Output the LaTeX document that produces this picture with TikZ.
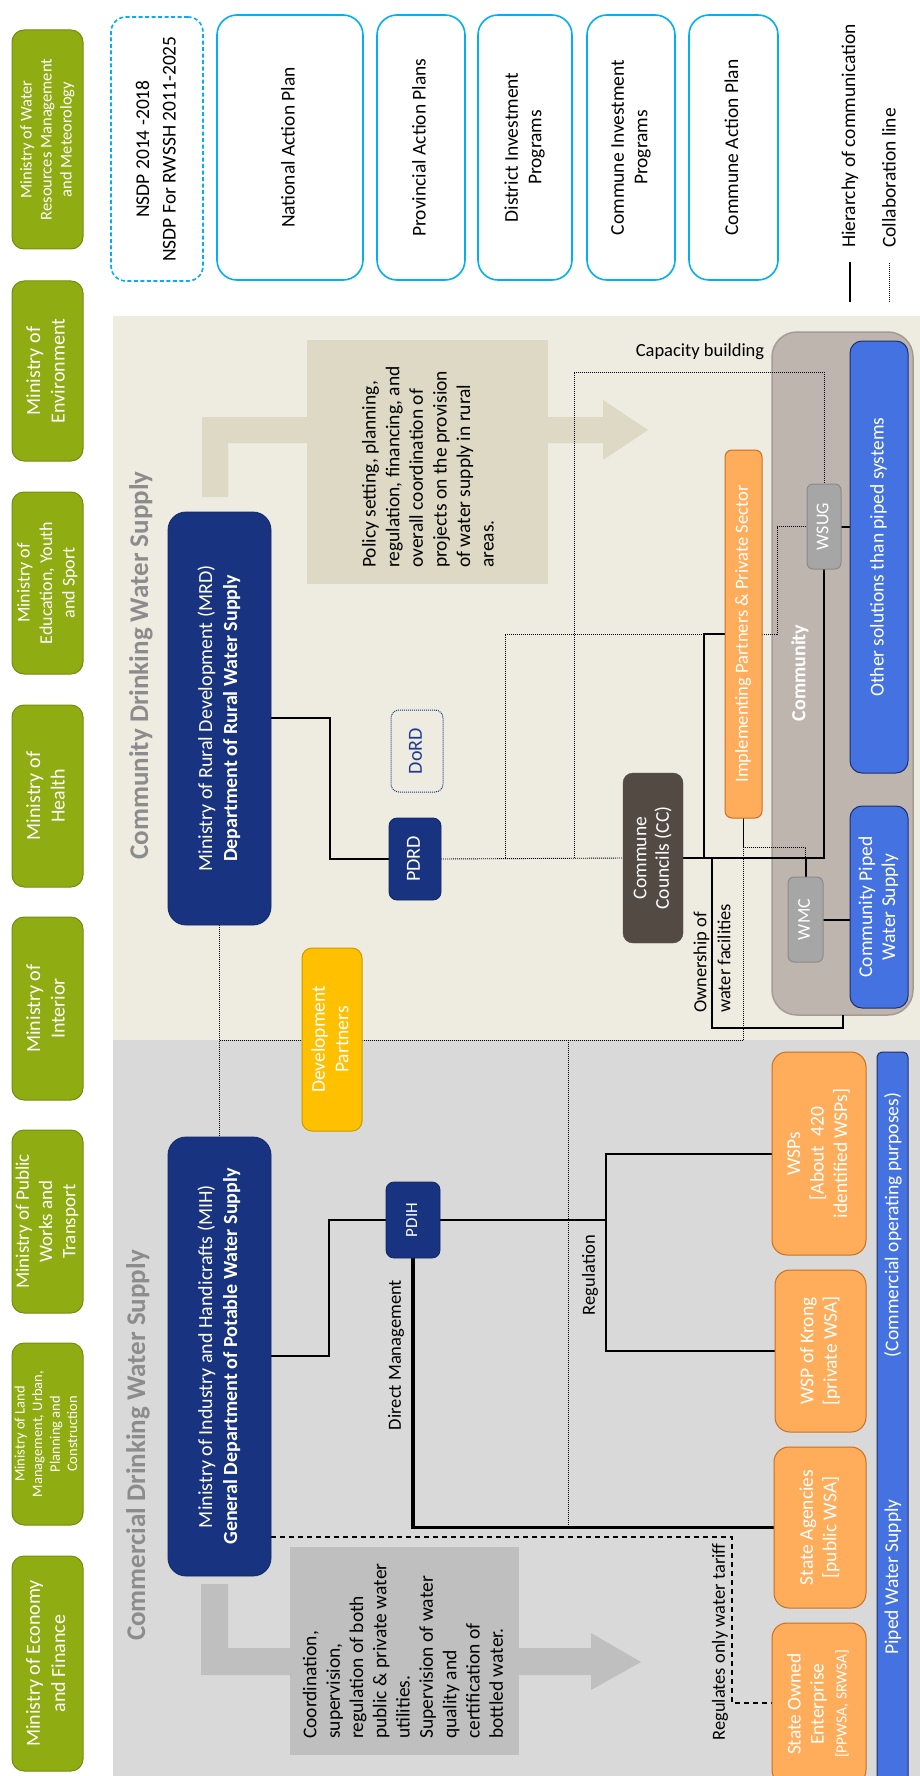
\documentclass[tikz,border=0pt]{standalone}
\usepackage{graphicx}
\usepackage{fontspec}
\setmainfont{Carlito}
\definecolor{mingreen}{HTML}{8FAC12}
\definecolor{minborder}{HTML}{748D0D}
\definecolor{plancyan}{HTML}{00B0F0}
\definecolor{navy}{HTML}{18337F}
\definecolor{navyborder}{HTML}{102666}
\definecolor{orangefill}{HTML}{FFAD5B}
\definecolor{orangeborder}{HTML}{C8701E}
\definecolor{yellowfill}{HTML}{FFC000}
\definecolor{yellowborder}{HTML}{CC9A00}
\definecolor{commfill}{HTML}{BFB5AF}
\definecolor{commborder}{HTML}{A59B95}
\definecolor{greyfill}{HTML}{A6A6A6}
\definecolor{greyborder}{HTML}{8A8A8A}
\definecolor{bluefill}{HTML}{4472E0}
\definecolor{blueborder}{HTML}{1E2E6A}
\definecolor{ccfill}{HTML}{524A43}
\definecolor{bgrural}{HTML}{EEECE1}
\definecolor{bgcomm}{HTML}{D9D9D9}
\definecolor{policyfill}{HTML}{DDD9C4}
\definecolor{coordfill}{HTML}{BFBFBF}
\definecolor{titlegrey}{HTML}{8C8C8C}
\definecolor{dordblue}{HTML}{1F3A93}
\newcommand{\rt}[1]{\rotatebox{90}{\begin{tabular}{@{}c@{}}#1\end{tabular}}}
\newcommand{\rtl}[1]{\rotatebox{90}{\begin{tabular}{@{}l@{}}#1\end{tabular}}}
\newcommand{\fsz}[2]{\fontsize{#1}{#2}\selectfont}
\pgfdeclarelayer{bg}
\pgfdeclarelayer{lines}
\pgfsetlayers{bg,lines,main}
\tikzset{
  box/.style={rectangle, inner sep=0pt, outer sep=0pt},
  ministry/.style={box, rounded corners=12pt, fill=mingreen, draw=minborder, line width=1pt, text=white, minimum width=71pt},
  plan/.style={box, rounded corners=20pt, fill=white, draw=plancyan, line width=1.6pt, text=black, minimum height=265pt, font=\fsz{19.5}{23.5}},
  navybox/.style={box, fill=navy, draw=navyborder, line width=0.8pt, text=white, rounded corners=18pt},
  orangebox/.style={box, fill=orangefill, draw=orangeborder, line width=1pt, rounded corners=15pt, text=white, font=\fsz{19.5}{23.5}},
  bluebox/.style={box, fill=bluefill, draw=blueborder, line width=1pt, rounded corners=12pt, text=white, font=\fsz{19.5}{23}},
  greybox/.style={box, fill=greyfill, draw=greyborder, line width=1pt, rounded corners=6pt, text=white, font=\fsz{18}{22}},
  label/.style={inner sep=0pt, text=black, font=\fsz{18.5}{24}},
  hier/.style={line width=2pt},
  thickline/.style={line width=3.2pt},
  collab/.style={line width=0.9pt, dash pattern=on 1pt off 1pt},
  tariff/.style={line width=1.1pt, dash pattern=on 5pt off 4pt},
}
\begin{document}
\begin{tikzpicture}[x=1pt,y=-1pt]
\useasboundingbox (0,0) rectangle (920,1776);
\begin{pgfonlayer}{bg}
\fill[bgrural] (113,316) rectangle (920,1040);
\fill[bgcomm] (113,1040) rectangle (920,1776);
\fill[policyfill] (202,497) -- (202,417) -- (603,417) -- (603,400) -- (648,430) -- (603,460) -- (603,443) -- (228,443) -- (228,497) -- cycle;
\fill[coordfill] (201,1584) -- (228,1584) -- (228,1648) -- (591,1648) -- (591,1633) -- (641,1662) -- (591,1690) -- (591,1675) -- (201,1675) -- cycle;
\node[box, fill=policyfill, minimum width=241pt, minimum height=244pt] (policy) at (427.5,462) {};
\node[box, fill=coordfill, minimum width=229pt, minimum height=208pt] (coord) at (404.5,1651) {};
\node[box, fill=commfill, draw=commborder, line width=1.5pt, rounded corners=25pt, minimum width=141pt, minimum height=683pt] (comm) at (842.5,673.5) {};
\end{pgfonlayer}

% ministries
\node[ministry, minimum height=219pt, font=\fsz{16.5}{20}] (m1) at (47.5,139.5) {\rt{Ministry of Water\\Resources Management\\and Meteorology}};
\node[ministry, minimum height=180pt, font=\fsz{20}{24.5}] (m2) at (47.5,371) {\rt{Ministry of\\Environment}};
\node[ministry, minimum height=182pt, font=\fsz{18}{22.5}] (m3) at (47.5,583) {\rt{Ministry of\\Education, Youth\\and Sport}};
\node[ministry, minimum height=182pt, font=\fsz{20}{24.5}] (m4) at (47.5,796) {\rt{Ministry of\\Health}};
\node[ministry, minimum height=183pt, font=\fsz{20}{24.5}] (m5) at (47.5,1008.5) {\rt{Ministry of\\Interior}};
\node[ministry, minimum height=183pt, font=\fsz{19}{23.3}] (m6) at (47.5,1221.5) {\rt{Ministry of Public\\Works and\\Transport}};
\node[ministry, minimum height=182pt, font=\fsz{14.5}{17.5}] (m7) at (47.5,1434) {\rt{Ministry of Land\\Management, Urban,\\Planning and\\Construction}};
\node[ministry, minimum height=215pt, font=\fsz{20}{25}] (m8) at (47.5,1663.5) {\rt{Ministry of Economy\\and Finance}};

% plans
\node[plan, dash pattern=on 4pt off 2.5pt, rounded corners=15pt, minimum width=92pt, minimum height=264pt, font=\fsz{19.5}{26.5}] (nsdp) at (157,149) {\rt{NSDP 2014 -2018\\NSDP For RWSSH 2011-2025}};
\node[plan, minimum width=146pt] (nap) at (290,147.5) {\rt{National Action Plan}};
\node[plan, minimum width=88pt] (pap) at (421,147.5) {\rt{Provincial Action Plans}};
\node[plan, minimum width=94pt] (dip) at (525,147.5) {\rt{District Investment\\Programs}};
\node[plan, minimum width=88pt] (cip) at (631,147.5) {\rt{Commune Investment\\Programs}};
\node[plan, minimum width=89pt] (cap) at (733.5,147.5) {\rt{Commune Action Plan}};

% legend
\coordinate (leg1a) at (850,262);
\coordinate (leg1b) at (850,302);
\coordinate (leg2a) at (889,263);
\coordinate (leg2b) at (889,302);
\draw[line width=2.2pt] (leg1a) -- (leg1b);
\draw[collab] (leg2a) -- (leg2b);
\node[anchor=south, inner sep=0pt, font=\fsz{19.5}{24}] (leg1) at (850,248) {\rotatebox{90}{Hierarchy of communication}};
\node[anchor=south, inner sep=0pt, font=\fsz{19.5}{24}] (leg2) at (889,248) {\rotatebox{90}{Collaboration line}};

% titles
\node[inner sep=0pt, font=\bfseries\fsz{27}{32}, text=titlegrey] (t1) at (141,665.5) {\rotatebox{90}{Community Drinking Water Supply}};
\node[inner sep=0pt, font=\bfseries\fsz{27}{32}, text=titlegrey] (t2) at (138,1445.5) {\rotatebox{90}{Commercial Drinking Water Supply}};

% texts in arrows
\node[anchor=south, inner sep=0pt, font=\fsz{19.5}{23.6}] (policytxt) at (430,568) {\rtl{Policy setting, planning,\\regulation, financing, and\\overall coordination of\\projects on the provision\\of water supply in rural\\areas.}};
\node[anchor=south, inner sep=0pt, font=\fsz{19.5}{23.3}] (coordtxt) at (405,1739) {\rtl{Coordination,\\supervision,\\regulation of both\\public \& private water\\utilities.\\Supervision of water\\quality and\\certification of\\bottled water.}};

% ministries boxes
\node[navybox, minimum width=103pt, minimum height=413pt, font=\fsz{20}{25}] (mrd) at (219.5,718.5) {\rt{Ministry of Rural Development (MRD)\\\textbf{Department of Rural Water Supply}}};
\node[navybox, minimum width=103pt, minimum height=439pt, font=\fsz{20}{25}] (mih) at (219.5,1356.5) {\rt{Ministry of Industry and Handicrafts (MIH)\\\textbf{General Department of Potable Water Supply}}};
\node[box, draw=navy, line width=1pt, dash pattern=on 1pt off 1pt, rounded corners=8pt, minimum width=52pt, minimum height=82pt, text=dordblue, font=\fsz{20}{24}] (dord) at (417,751) {\rt{DoRD}};
\node[navybox, rounded corners=8pt, minimum width=52pt, minimum height=82pt, font=\fsz{20}{24}] (pdrd) at (415,859) {\rt{PDRD}};
\node[navybox, rounded corners=8pt, minimum width=54pt, minimum height=76pt, font=\fsz{17}{20}] (pdih) at (413,1220) {\rt{PDIH}};
\node[box, fill=yellowfill, draw=yellowborder, line width=1pt, rounded corners=10pt, text=white, minimum width=60pt, minimum height=183pt, font=\fsz{19.5}{23.5}] (dp) at (332,1039.5) {\rt{Development\\Partners}};
\node[box, fill=ccfill, draw=ccfill, rounded corners=10pt, minimum width=60pt, minimum height=170pt, text=white, font=\fsz{19.5}{22.5}] (cc) at (653,858) {\rt{Commune\\Councils (CC)}};
\node[orangebox, rounded corners=7pt, minimum width=37pt, minimum height=368pt, font=\fsz{18.5}{22}] (impl) at (743.5,634) {\rt{Implementing Partners \& Private Sector}};

% community
\node[inner sep=0pt, text=white, font=\bfseries\fsz{20}{24}] (commlabel) at (800,673) {\rotatebox{90}{Community}};
\node[bluebox, minimum width=58pt, minimum height=432pt] (other) at (879,557) {\rt{Other solutions than piped systems}};
\node[bluebox, minimum width=58pt, minimum height=202pt] (cpws) at (879,907) {\rt{Community Piped\\Water Supply}};
\node[greybox, minimum width=34pt, minimum height=85pt] (wsug) at (824,526.5) {\rt{WSUG}};
\node[greybox, minimum width=35pt, minimum height=85pt] (wmc) at (805.5,919.5) {\rt{WMC}};

% commercial providers
\node[orangebox, minimum width=94pt, minimum height=203pt] (wsps) at (819,1153.5) {\rt{WSPs\\{[}About\ \ 420\\identified WSPs]}};
\node[orangebox, minimum width=91pt, minimum height=162pt] (krong) at (820.5,1351) {\rt{WSP of Krong\\{[}private WSA]}};
\node[orangebox, minimum width=92pt, minimum height=161pt] (sa) at (820,1527.5) {\rt{State Agencies\\{[}public WSA]}};
\node[orangebox, minimum width=94pt, minimum height=162pt, font=\fsz{19.5}{23}] (soe) at (819,1704) {\rt{State Owned\\Enterprise\\{\fsz{15.5}{18}[PPWSA, SRWSA]}}};
\node[box, fill=bluefill, draw=blueborder, line width=1pt, rounded corners=5pt, minimum width=31pt, minimum height=760pt] (piped) at (892.5,1432) {};
\node[inner sep=0pt, text=white, font=\fsz{19.5}{23}] (pipedtxt) at (893,1577) {\rotatebox{90}{Piped Water Supply}};
\node[inner sep=0pt, text=white, font=\fsz{19.5}{23}] (pipedtxt2) at (893,1225) {\rotatebox{90}{(Commercial operating purposes)}};

% line labels
\node[label] (capb) at (700,352) {Capacity building};
\node[label] (dm) at (396,1355) {\rotatebox{90}{Direct Management}};
\node[label] (reg) at (590,1275) {\rotatebox{90}{Regulation}};
\node[label] (rot) at (720,1642) {\rotatebox{90}{Regulates only water tariff}};
\node[label, anchor=south] (own) at (713.5,1013) {\rtl{Ownership of\\water facilities}};

\begin{pgfonlayer}{lines}
\draw[hier] (mrd.east |- 0,718) -- (330,718) |- (pdrd.west);
\draw[hier] (mih.east |- 0,1356) -- (329,1356) |- (pdih.west);
\draw[hier] (pdih.east) -- (606,1220) |- (wsps.west);
\draw[hier] (606,1220) |- (krong.west);
\draw[thickline] (pdih.south) |- (sa.west);
\draw[hier] (cc.east) -- (704,858) |- (impl.west);
\draw[hier, line width=2.4pt] (cc.east) -| (wsug.south);
\draw[hier] (wmc.north |- cc.east) -- (wmc.north);
\draw[hier] (712,858) -- (712,1028) -| (comm.south);
\draw[hier] (wsug.east) -- (other.west |- wsug.east);
\draw[hier] (wmc.east) -- (cpws.west |- wmc.east);
\draw[collab] (mrd.south) -- (mih.north);
\draw[collab] (mrd.south |- 0,1040) -| (impl.south);
\draw[collab] (568,1040) -- (568,1527);
\draw[collab] (pdrd.east) -- (cc.west);
\draw[collab] (505,858) |- (impl.west);
\draw[collab] (574,858) |- (wsug.north |- 0,372) -- (wsug.north);
\draw[collab] (impl.east) -- (777,634) |- (wsug.west);
\draw[collab] (impl.south) |- (wmc.north |- 0,847) -- (wmc.north);
\draw[tariff] (mih.east |- 0,1537) -- (732,1537) |- (soe.west |- 0,1703);
\end{pgfonlayer}
\end{tikzpicture}
\end{document}
